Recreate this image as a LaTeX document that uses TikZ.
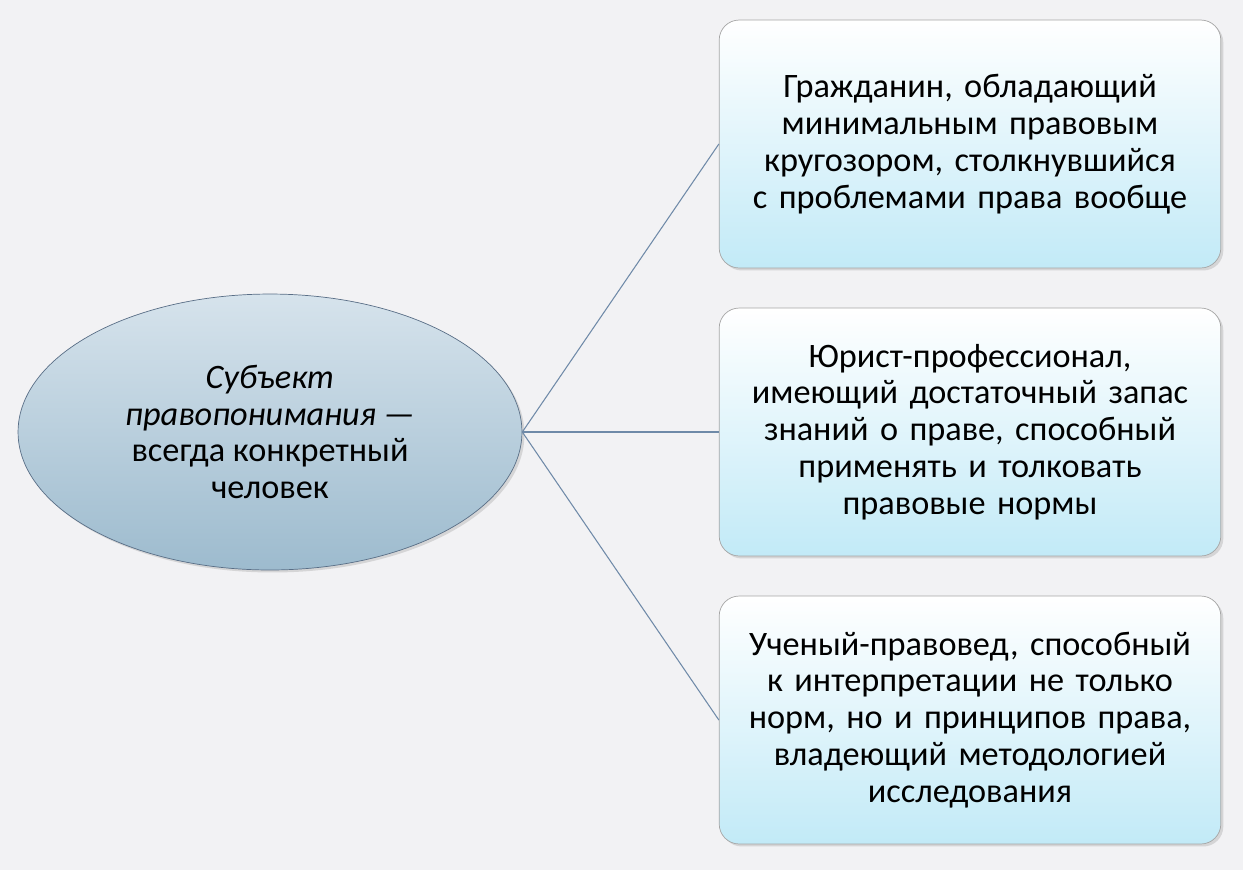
\documentclass[tikz,border=0pt]{standalone}
\usepackage{fontspec}
\setmainfont{Carlito}
\usetikzlibrary{shadows,shapes.geometric}
\definecolor{bg}{HTML}{F2F2F4}
\definecolor{elltop}{HTML}{D6E3EC}
\definecolor{ellbot}{HTML}{9DBBCE}
\definecolor{boxbot}{HTML}{C2EAF7}
\definecolor{edge}{HTML}{6F8AA8}
\tikzset{
 px/.style={x=0.02cm,y=-0.02cm},
 boxst/.style={draw=gray!70,rounded corners=0.4cm,top color=white,bottom color=boxbot,
   minimum width=10cm,minimum height=4.96cm,align=center,text width=9.8cm,
   font=\fontsize{19.5}{21}\selectfont,drop shadow={opacity=0.25,shadow xshift=0.05cm,shadow yshift=-0.05cm}},
 ellst/.style={ellipse,draw=edge!80!black,top color=elltop,bottom color=ellbot,
   minimum width=10.08cm,minimum height=5.52cm,align=center,
   font=\fontsize{19.5}{21}\selectfont,drop shadow={opacity=0.25,shadow xshift=0.05cm,shadow yshift=-0.05cm}},
 conn/.style={draw=edge,line width=0.6pt}
}
\begin{document}
\begin{tikzpicture}[px]
\fill[bg] (0,0) rectangle (1243,870);
\useasboundingbox (0,0) rectangle (1243,870);
\node[ellst] (e) at (270,432) {\itshape Субъект\\ \itshape правопонимания —\\всегда конкретный\\человек};
\node[boxst] (b1) at (970,144) {Гражданин, обладающий\\минимальным правовым\\кругозором, столкнувшийся\\с проблемами права вообще};
\node[boxst] (b2) at (970,432) {Юрист-профессионал,\\имеющий достаточный запас\\знаний о праве, способный\\применять и толковать\\правовые нормы};
\node[boxst] (b3) at (970,720) {Ученый-правовед, способный\\к интерпретации не только\\норм, но и принципов права,\\владеющий методологией\\исследования};
\draw[conn] (e.east) -- (b1.west);
\draw[conn] (e.east) -- (b2.west);
\draw[conn] (e.east) -- (b3.west);
\end{tikzpicture}
\end{document}
